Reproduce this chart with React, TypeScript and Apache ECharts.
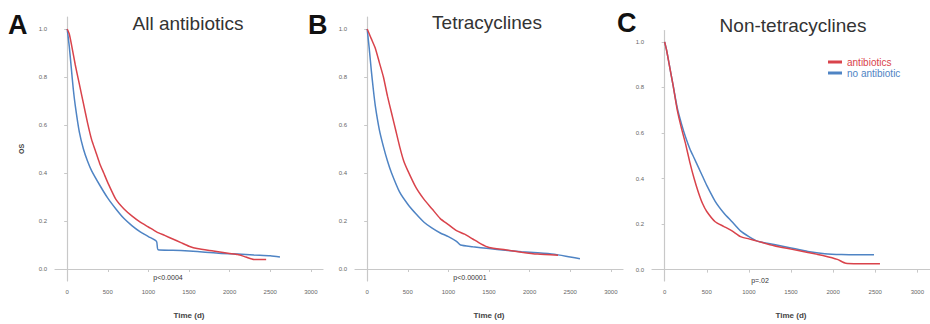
import React, { useEffect, useRef } from "react";
import * as echarts from "echarts";

const RED = "#d9434b";
const BLUE = "#4f84c4";

const panelLetters = ["A", "B", "C"];
const panelTitles = ["All antibiotics", "Tetracyclines", "Non-tetracyclines"];
const pValues = ["p<0.0004", "p<0.00001", "p=.02"];
const seriesNames = ["antibiotics", "no antibiotic"];
const xTicks = [0, 500, 1000, 1500, 2000, 2500, 3000];
const yTicks = [0, 0.2, 0.4, 0.6, 0.8, 1.0];

// Panel A
const aRedT = [0, 25, 50, 100, 150, 200, 250, 300, 350, 400, 450, 500, 600, 700, 800, 900, 1000, 1100, 1200, 1300, 1400, 1500, 1600, 1800, 2000, 2100, 2200, 2300, 2450];
const aRedS = [1.0, 0.98, 0.94, 0.85, 0.77, 0.69, 0.61, 0.54, 0.49, 0.44, 0.40, 0.36, 0.29, 0.25, 0.22, 0.195, 0.175, 0.155, 0.14, 0.125, 0.11, 0.095, 0.085, 0.075, 0.065, 0.06, 0.05, 0.04, 0.04];
const aBlueT = [0, 25, 50, 75, 100, 150, 200, 250, 300, 400, 500, 600, 700, 800, 900, 1000, 1100, 1120, 1300, 1500, 1700, 1900, 2100, 2300, 2500, 2620];
const aBlueS = [1.0, 0.93, 0.84, 0.75, 0.68, 0.57, 0.50, 0.45, 0.41, 0.35, 0.295, 0.25, 0.21, 0.18, 0.155, 0.135, 0.115, 0.08, 0.078, 0.075, 0.07, 0.065, 0.062, 0.058, 0.055, 0.05];

// Panel B
const bRedT = [0, 25, 50, 100, 150, 200, 250, 300, 350, 400, 450, 500, 600, 700, 800, 900, 1000, 1100, 1200, 1300, 1400, 1500, 1700, 1900, 2100, 2350];
const bRedS = [1.0, 0.98, 0.96, 0.92, 0.86, 0.80, 0.72, 0.65, 0.58, 0.51, 0.45, 0.41, 0.34, 0.29, 0.25, 0.21, 0.185, 0.16, 0.145, 0.125, 0.105, 0.09, 0.08, 0.07, 0.062, 0.057];
const bBlueT = [0, 25, 50, 75, 100, 150, 200, 250, 300, 400, 500, 600, 700, 800, 900, 1000, 1100, 1150, 1300, 1500, 1700, 1900, 2100, 2300, 2500, 2620];
const bBlueS = [1.0, 0.92, 0.83, 0.75, 0.68, 0.58, 0.51, 0.45, 0.40, 0.32, 0.27, 0.23, 0.195, 0.17, 0.15, 0.135, 0.115, 0.10, 0.093, 0.085, 0.078, 0.072, 0.068, 0.062, 0.05, 0.043];

// Panel C
const cRedT = [0, 25, 50, 100, 150, 200, 250, 300, 350, 400, 450, 500, 600, 700, 800, 900, 1000, 1100, 1300, 1500, 1700, 1900, 2050, 2150, 2300, 2556];
const cRedS = [1.0, 0.96, 0.91, 0.81, 0.70, 0.62, 0.55, 0.47, 0.40, 0.34, 0.29, 0.255, 0.21, 0.19, 0.17, 0.145, 0.135, 0.125, 0.105, 0.09, 0.075, 0.06, 0.045, 0.028, 0.026, 0.026];
const cBlueT = [0, 25, 50, 100, 150, 200, 250, 300, 350, 400, 450, 500, 600, 700, 800, 900, 1000, 1100, 1300, 1500, 1700, 1900, 2100, 2300, 2485];
const cBlueS = [1.0, 0.96, 0.91, 0.81, 0.71, 0.64, 0.58, 0.53, 0.49, 0.45, 0.41, 0.37, 0.30, 0.25, 0.21, 0.17, 0.145, 0.125, 0.11, 0.095, 0.08, 0.07, 0.066, 0.065, 0.065];

const curves = [
  [[aRedT, aRedS], [aBlueT, aBlueS]],
  [[bRedT, bRedS], [bBlueT, bBlueS]],
  [[cRedT, cRedS], [cBlueT, cBlueS]],
];

const zip = (t: number[], s: number[]) => t.map((v, i) => [v, s[i]]);

export default function App() {
  const ref = useRef<HTMLDivElement>(null);
  useEffect(() => {
    if (!ref.current) return;
    const chart = echarts.init(ref.current, undefined, { renderer: "svg" });
    const grids = [
      { left: 55, top: 17, width: 268, height: 268 },
      { left: 355, top: 17, width: 268, height: 268 },
      { left: 652, top: 30.5, width: 282, height: 254.5 },
    ];
    const axisCommon = {
      axisLine: { show: true, lineStyle: { color: "#c8c8c8", width: 1.2 } },
      axisTick: { show: true, length: 3, lineStyle: { color: "#c8c8c8" } },
      splitLine: { show: false },
    };
    const xAxes = grids.map((_, i) => ({
      type: "value",
      gridIndex: i,
      min: -150,
      max: 3150,
      ...axisCommon,
      axisTick: { ...axisCommon.axisTick, customValues: xTicks },
      axisLabel: {
        customValues: xTicks,
        fontSize: 6,
        color: "#666",
        margin: 8,
        fontFamily: "Liberation Sans",
        formatter: (v: number) => String(v),
      },
      name: "Time (d)",
      nameLocation: "middle",
      nameGap: 30,
      nameTextStyle: { fontSize: 8, fontWeight: "bold", color: "#444", fontFamily: "Liberation Sans" },
    }));
    const yAxes = grids.map((_, i) => ({
      type: "value",
      gridIndex: i,
      min: -0.05,
      max: 1.05,
      ...axisCommon,
      axisTick: { ...axisCommon.axisTick, customValues: yTicks },
      axisLabel: {
        customValues: yTicks,
        fontSize: 6,
        color: "#666",
        margin: 8,
        fontFamily: "Liberation Sans",
        formatter: (v: number) => v.toFixed(1),
      },
      name: i === 0 ? "OS" : "",
      nameLocation: "middle",
      nameGap: 30,
      nameRotate: 90,
      nameTextStyle: { fontSize: 7, fontWeight: "bold", color: "#444", fontFamily: "Liberation Sans" },
    }));
    const series: any[] = [];
    curves.forEach((pair, i) => {
      pair.forEach(([t, s], j) => {
        series.push({
          type: "line",
          name: seriesNames[j],
          xAxisIndex: i,
          yAxisIndex: i,
          data: zip(t as number[], s as number[]),
          smooth: 0.2,
          showSymbol: false,
          lineStyle: { width: 1.5, color: j === 0 ? RED : BLUE },
          itemStyle: { color: j === 0 ? RED : BLUE },
          z: j === 0 ? 3 : 2,
        });
      });
    });
    const letterX = [8, 308, 617];
    const letterY = [25, 25, 23];
    const titleX = [188, 487, 793];
    const titleY = [23.5, 22.5, 25];
    const pX = [168, 470, 760];
    const pY = [277, 277, 280];
    const graphic: any[] = [];
    for (let i = 0; i < 3; i++) {
      graphic.push({
        type: "text",
        x: letterX[i],
        y: letterY[i],
        style: { text: panelLetters[i], font: "bold 27px 'Liberation Sans', Arial, sans-serif", fill: "#111111", align: "left", verticalAlign: "middle" },
      });
      graphic.push({
        type: "text",
        x: titleX[i],
        y: titleY[i],
        style: { text: panelTitles[i], font: "19px 'Liberation Sans', Arial, sans-serif", fill: "#333333", align: "center", verticalAlign: "middle" },
      });
      graphic.push({
        type: "text",
        x: pX[i],
        y: pY[i],
        z: 10,
        style: { text: pValues[i], font: "7px 'Liberation Sans', Arial, sans-serif", fill: "#333333", align: "center", verticalAlign: "middle" },
      });
    }
    chart.setOption({
      animation: false,
      backgroundColor: "#ffffff",
      grid: grids,
      xAxis: xAxes,
      yAxis: yAxes,
      series,
      legend: {
        orient: "vertical",
        left: 828,
        top: 57,
        itemWidth: 14,
        itemHeight: 3,
        itemGap: 1,
        padding: 0,
        icon: "rect",
        textStyle: { fontSize: 10, fontFamily: "Liberation Sans" },
        data: [
          { name: seriesNames[0], textStyle: { color: RED } },
          { name: seriesNames[1], textStyle: { color: BLUE } },
        ],
      },
      graphic,
    });
    return () => chart.dispose();
  }, []);
  return (
    <div
      ref={ref}
      style={{ position: "fixed", left: 0, top: 0, width: 930, height: 324, background: "#fff" }}
    />
  );
}
